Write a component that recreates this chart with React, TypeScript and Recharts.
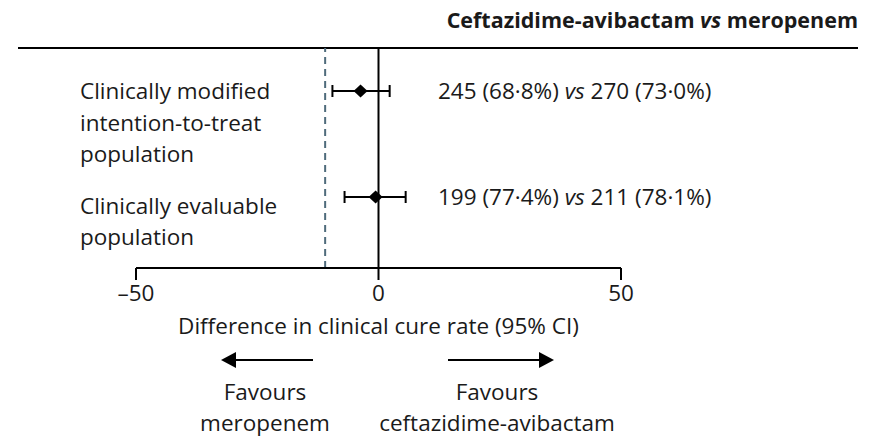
import React from 'react';
import {
  ComposedChart,
  Scatter,
  ErrorBar,
  XAxis,
  YAxis,
  ReferenceLine,
  LabelList,
  Label,
  Customized,
} from 'recharts';

// populations, top to bottom
const populations = [
  ['Clinically modified', 'intention-to-treat', 'population'],
  ['Clinically evaluable', 'population'],
];
const difference = [-3.7, -0.6];
const ciLow = [-9.5, -7.0];
const ciHigh = [2.3, 5.6];
const avibactamCured = ['245 (68·8%)', '199 (77·4%)'];
const meropenemCured = ['270 (73·0%)', '211 (78·1%)'];
const margin = -11;
const xTicks = [-50, 0, 50];

const data = populations.map((p, i) => ({
  row: i,
  est: difference[i],
  err: [difference[i] - ciLow[i], ciHigh[i] - difference[i]],
  a: avibactamCured[i],
  m: meropenemCured[i],
}));

const FONT = '"Open Sans", sans-serif';
const INK = '#1a1a1a';
const FS = 22.5;

const Diamond = (props: any) => {
  const { cx, cy } = props;
  return (
    <polygon
      points={`${cx - 7},${cy} ${cx},${cy - 6.5} ${cx + 7},${cy} ${cx},${cy + 6.5}`}
      fill="#000"
    />
  );
};

const RowTick = (props: any) => {
  const { y, payload } = props;
  const lines = populations[payload.value] || [];
  const first = payload.value === 0 ? 8 : 17;
  return (
    <text x={80} y={y + first} fontFamily={FONT} fontSize={FS} fill={INK} textAnchor="start">
      {lines.map((l, i) => (
        <tspan key={i} x={80} dy={i === 0 ? 0 : 31.5}>
          {l}
        </tspan>
      ))}
    </text>
  );
};

const CountLabel = (props: any) => {
  const { y, height, index } = props;
  const cy = (y ?? 0) + (height ?? 0) / 2;
  return (
    <text x={438} y={cy + 8} fontFamily={FONT} fontSize={FS} fill={INK}>
      {avibactamCured[index]} <tspan fontStyle="italic">vs</tspan> {meropenemCured[index]}
    </text>
  );
};

const Decorations = () => (
  <g fontFamily={FONT} fill={INK}>
    <text x={858} y={28} textAnchor="end" fontSize={21.5} fontWeight={700}>
      Ceftazidime-avibactam <tspan fontStyle="italic">vs</tspan> meropenem
    </text>
    <line x1={18} x2={858} y1={48} y2={48} stroke="#000" strokeWidth={2} />
    {/* direction arrows */}
    <line x1={313} x2={234} y1={360} y2={360} stroke="#000" strokeWidth={2} />
    <polygon points="221,360 236,352 236,368" fill="#000" />
    <line x1={448} x2={541} y1={360} y2={360} stroke="#000" strokeWidth={2} />
    <polygon points="554,360 539,352 539,368" fill="#000" />
    <text x={265} y={400} textAnchor="middle" fontSize={FS}>Favours</text>
    <text x={265} y={431} textAnchor="middle" fontSize={FS}>meropenem</text>
    <text x={497} y={400} textAnchor="middle" fontSize={FS}>Favours</text>
    <text x={497} y={431} textAnchor="middle" fontSize={FS}>ceftazidime-avibactam</text>
  </g>
);

export default function App() {
  return (
    <div style={{ position: 'absolute', left: 0, top: 0, background: '#fff' }}>
      <ComposedChart
        width={871}
        height={445}
        data={data}
        margin={{ top: 48, right: 250, bottom: 147, left: 76 }}
      >
        <XAxis
          type="number"
          dataKey="est"
          domain={[-50, 50]}
          ticks={xTicks}
          height={30}
          axisLine={{ stroke: '#000', strokeWidth: 2 }}
          tickLine={{ stroke: '#000', strokeWidth: 2 }}
          tickSize={12}
          tickMargin={5}
          tick={{ fontSize: FS, fill: INK, fontFamily: FONT }}
          tickFormatter={(v: number) => (v < 0 ? `–${Math.abs(v)}` : `${v}`)}
        >
          <Label
            value="Difference in clinical cure rate (95% CI)"
            position="bottom"
            offset={20}
            style={{ fontSize: FS, fill: INK, fontFamily: FONT }}
          />
        </XAxis>
        <YAxis
          type="number"
          dataKey="row"
          domain={[-0.406, 1.67]}
          reversed
          ticks={[0, 1]}
          width={60}
          axisLine={false}
          tickLine={false}
          tick={<RowTick />}
          allowDataOverflow
        />
        <ReferenceLine x={margin} stroke="#4f6b7b" strokeWidth={2} strokeDasharray="7 5" />
        <ReferenceLine x={0} stroke="#000" strokeWidth={2} />
        <Scatter dataKey="row" shape={<Diamond />} isAnimationActive={false}>
          <ErrorBar
            dataKey="err"
            direction="x"
            width={6}
            stroke="#000"
            strokeWidth={2}
            isAnimationActive={false}
          />
          <LabelList dataKey="a" content={<CountLabel />} />
        </Scatter>
        <Customized component={<Decorations />} />
      </ComposedChart>
    </div>
  );
}
